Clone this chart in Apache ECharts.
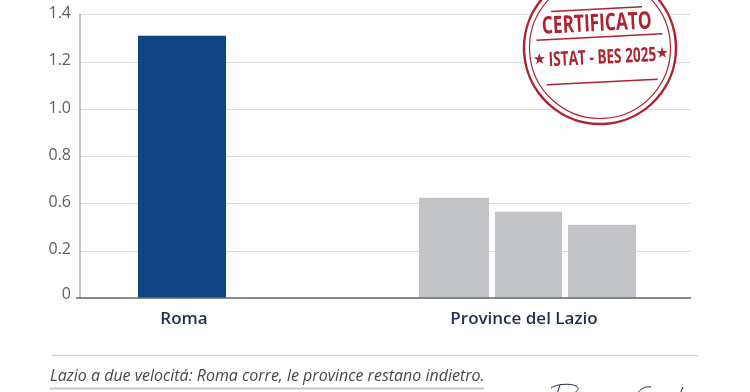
<!DOCTYPE html>
<html><head><meta charset="utf-8">
<style>html,body{margin:0;padding:0;background:#fff}#c{width:750px;height:392px}</style>
<script src="https://cdn.jsdelivr.net/npm/echarts@6/dist/echarts.min.js"></script>
</head><body><div id="c"></div>
<script>
const yTickLabels = [0, 0.2, 0.6, 0.8, 1.0, 1.2, 1.4];
const xCategories = ['Roma', 'Province del Lazio'];
const xCategoryPositions = [104, 444];
const barNames = ['Roma', 'Provincia 1', 'Provincia 2', 'Provincia 3'];
const barValues = [1.31, 0.624, 0.53, 0.42];
const barPositions = [92, 373, 449, 522];
const barWidths = [88, 70, 67, 68];
const barColors = ['#0f4482', '#c1c3c6', '#c1c3c6', '#c1c3c6'];

// The printed scale is uneven (0, 0.2, 0.6, ...) but its ticks are evenly spaced.
function toScale(v) {
  for (let i = 1; i < yTickLabels.length; i++) {
    if (v <= yTickLabels[i]) {
      return i - 1 + (v - yTickLabels[i - 1]) / (yTickLabels[i] - yTickLabels[i - 1]);
    }
  }
  return yTickLabels.length - 1;
}
const red = '#ad2430';
const ink = '#1e2f4d';
const signature = {fill: 'none', stroke: '#1c2a44', lineWidth: 1};
const chart = echarts.init(document.getElementById('c'), null, {renderer: 'canvas'});
chart.setOption({
  animation: false,
  backgroundColor: '#fff',
  grid: {left: 80, right: 59, top: 14.5, bottom: 94, containLabel: false},
  xAxis: {
    type: 'value', min: 0, max: 611, splitLine: {show: false},
    axisLine: {show: false}, axisTick: {show: false},
    axisLabel: {
      customValues: xCategoryPositions,
      formatter: v => xCategories[xCategoryPositions.indexOf(v)] || '',
      color: ink, fontFamily: 'Open Sans', fontSize: 17, fontWeight: 600, margin: 13,
      hideOverlap: false, showMinLabel: true, showMaxLabel: true
    }
  },
  yAxis: {
    type: 'value', min: 0, max: yTickLabels.length - 1, interval: 1,
    axisLine: {show: true, lineStyle: {color: '#adb0b4', width: 1.5}},
    axisTick: {show: false},
    splitLine: {show: true, lineStyle: {color: '#dcdde0', width: 1}},
    axisLabel: {
      formatter: v => { const t = yTickLabels[v]; return t === 0 ? '{zero|0}' : t.toFixed(1); },
      rich: {zero: {color: '#5a5d63', fontFamily: 'Open Sans', fontSize: 16, padding: [0, 0, 5, 0]}},
      color: '#5a5d63', fontFamily: 'Open Sans', fontSize: 16, margin: 9, padding: [0, 0, 2, 0]
    }
  },
  series: barNames.map((name, i) => ({
    name, type: 'bar', barGap: '-100%', barWidth: barWidths[i],
    itemStyle: {color: barColors[i]}, z: 3,
    data: [[barPositions[i], toScale(barValues[i])]]
  })),
  graphic: [
    {type: 'line', z: 4, shape: {x1: 76, y1: 298, x2: 691, y2: 298}, style: {stroke: '#646a72', lineWidth: 1.5}},
    {type: 'line', z: 4, shape: {x1: 52, y1: 355.5, x2: 698, y2: 355.5}, style: {stroke: '#cfd1d4', lineWidth: 1.5}},
    {type: 'text', z: 4, x: 50, y: 376, scaleX: 0.94, style: {text: 'Lazio a due velocitá: Roma corre, le province restano indietro.', fill: '#44474c',
      font: 'italic 17px "Open Sans"', textVerticalAlign: 'middle'}},
    {type: 'line', z: 4, shape: {x1: 50, y1: 388.5, x2: 484, y2: 388.5}, style: {stroke: '#c4c6c9', lineWidth: 2}},
    {type: 'bezierCurve', z: 4, shape: {x1: 551, y1: 388, cpx1: 556, cpy1: 384, cpx2: 570, cpy2: 383, x2: 576, y2: 386}, style: signature},
    {type: 'bezierCurve', z: 4, shape: {x1: 576, y1: 386, cpx1: 580, cpy1: 388, cpx2: 578, cpy2: 391, x2: 574, y2: 393}, style: signature},
    {type: 'line', z: 4, shape: {x1: 560, y1: 385, x2: 557, y2: 394}, style: signature},
    {type: 'bezierCurve', z: 4, shape: {x1: 637, y1: 394, cpx1: 640, cpy1: 389, cpx2: 645, cpy2: 386, x2: 651, y2: 387}, style: signature},
    {type: 'line', z: 4, shape: {x1: 683, y1: 387, x2: 680, y2: 394}, style: signature},
    {type: 'group', x: 600, y: 48, rotation: 0.05, z: 10, children: [
      {type: 'circle', z: 10, shape: {cx: 0, cy: 0, r: 76}, style: {fill: '#fff', stroke: red, lineWidth: 2.5}},
      {type: 'circle', z: 10, shape: {cx: 0, cy: 0, r: 70.5}, style: {fill: 'none', stroke: red, lineWidth: 1.2}},
      {type: 'line', z: 11, shape: {x1: -47, y1: -39, x2: 44, y2: -39}, style: {stroke: red, lineWidth: 1.5}},
      {type: 'line', z: 11, shape: {x1: -63, y1: -11, x2: 63, y2: -11}, style: {stroke: red, lineWidth: 1.5}},
      {type: 'line', z: 11, shape: {x1: -55, y1: 34, x2: 56, y2: 34}, style: {stroke: red, lineWidth: 1.5}},
      {type: 'text', z: 11, x: -2, y: -24, scaleX: 0.72, style: {text: 'CERTIFICATO', fill: red, font: 'bold 24px "Open Sans"', textAlign: 'center', textVerticalAlign: 'middle'}},
      {type: 'text', z: 11, x: 2, y: 10, scaleX: 0.68, style: {text: 'ISTAT - BES 2025', fill: red, font: 'bold 20px "Open Sans"', textAlign: 'center', textVerticalAlign: 'middle'}},
      {type: 'text', z: 11, x: -61, y: 9, style: {text: '★', fill: red, font: '15px "DejaVu Sans"', textAlign: 'center', textVerticalAlign: 'middle'}},
      {type: 'text', z: 11, x: 62, y: 9, style: {text: '★', fill: red, font: '15px "DejaVu Sans"', textAlign: 'center', textVerticalAlign: 'middle'}}
    ]}
  ]
});
</script></body></html>
